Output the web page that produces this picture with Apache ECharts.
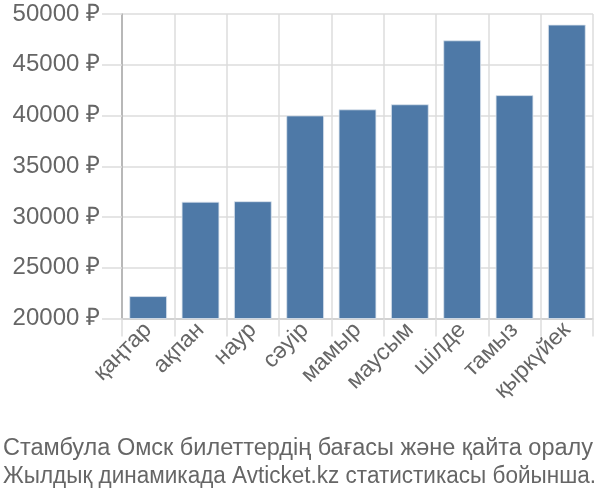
<!DOCTYPE html>
<html><head><meta charset="utf-8">
<script src="https://cdn.jsdelivr.net/npm/echarts@6/dist/echarts.min.js"></script>
<style>html,body{margin:0;padding:0;background:#fff}#c{width:600px;height:500px}</style>
</head><body><div id="c"></div>
<script>
const categories = ['қаңтар','ақпан','наур','сәуір','мамыр','маусым','шілде','тамыз','қыркүйек'];
const prices = [22200, 31500, 31550, 40000, 40600, 41100, 47400, 42000, 48950];
const titleLines = ['Стамбула Омск билеттердің бағасы және қайта оралу','Жылдық динамикада Avticket.kz статистикасы бойынша.'];
const yMin = 20000, yMax = 50000, yStep = 5000;

const chart = echarts.init(document.getElementById('c'), null, {renderer:'canvas'});
const font = 'Liberation Sans, Arial, sans-serif';
const titleSize = 23.5;
const lineTargets = [590, 593];
const lineY = [449, 477];
const ctx = document.createElement('canvas').getContext('2d');
ctx.font = titleSize + 'px ' + font;
const titleGraphics = titleLines.map((t, i) => {
  const w = ctx.measureText(t).width;
  const s = Math.min(1, lineTargets[i] / w);
  return {type:'text', x:3, y:lineY[i], scaleX:s, originX:0, originY:0,
    style:{text:t, font:titleSize + 'px ' + font, fill:'#666', verticalAlign:'middle', align:'left'}};
});
chart.setOption({
  animation:false,
  textStyle:{fontFamily:font},
  graphic:titleGraphics,
  grid:{left:122, right:7, top:14, bottom:181.5, containLabel:false},
  xAxis:{type:'category', data:categories, boundaryGap:true,
    axisLine:{show:true, lineStyle:{color:'#ccc', width:1.5}},
    axisTick:{show:true, length:18, lineStyle:{color:'#ddd', width:1.5}},
    splitLine:{show:true, lineStyle:{color:'#ddd', width:1.5}},
    axisLabel:{rotate:45, fontSize:23, color:'#666', fontFamily:font, margin:8, interval:0}},
  yAxis:{type:'value', min:yMin, max:yMax, interval:yStep,
    axisLine:{show:true, lineStyle:{color:'#aaa', width:1.5}},
    axisTick:{show:true, length:20, lineStyle:{color:'#ddd', width:1.5}},
    splitLine:{show:true, lineStyle:{color:'#ddd', width:1.5}},
    axisLabel:{fontSize:24, color:'#666', fontFamily:font, margin:22,
      formatter:v=>v+' ₽'}},
  series:[{type:'bar', data:prices, barWidth:'72%',
    itemStyle:{color:'#4e79a7', borderColor:'#dce4ee', borderWidth:0.8}}]
});
</script></body></html>
